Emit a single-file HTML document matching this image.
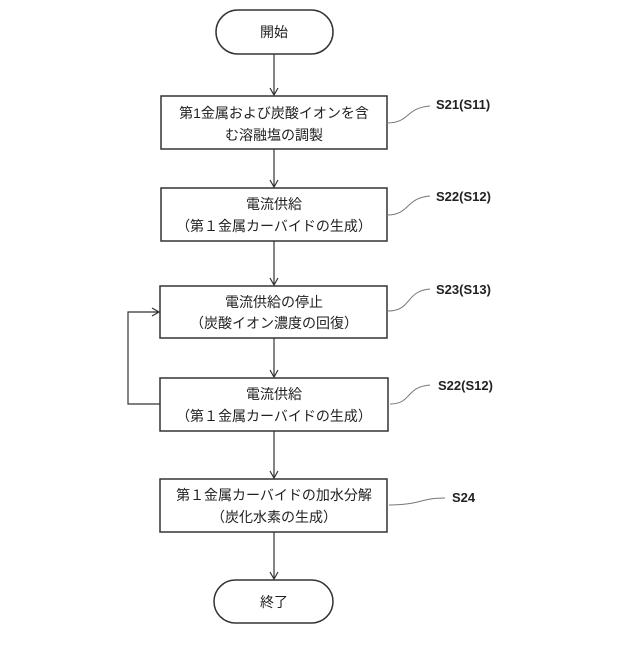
<!DOCTYPE html>
<html><head><meta charset="utf-8"><style>body{margin:0;background:#fff}</style></head><body>
<svg width="640" height="640" viewBox="0 0 640 640" xmlns="http://www.w3.org/2000/svg" font-family="Liberation Sans, Noto Sans CJK JP, sans-serif">
<defs><marker id="a" markerWidth="10" markerHeight="10" refX="8" refY="5" orient="auto" markerUnits="userSpaceOnUse"><path d="M1,1 L8,5 L1,9" fill="none" stroke="#333" stroke-width="1.2"/></marker></defs>
<g fill="none" stroke="#333" stroke-width="1.5">
<rect x="216" y="10" width="117" height="44" rx="22"/>
<rect x="161" y="96" width="226" height="53"/>
<rect x="161" y="188" width="226" height="53"/>
<rect x="160" y="286" width="227" height="52"/>
<rect x="160" y="378" width="228" height="53"/>
<rect x="160" y="479" width="227" height="53"/>
<rect x="214" y="580" width="119" height="43" rx="21.5"/>
<g stroke-width="1.2" marker-end="url(#a)">
<line x1="274" y1="54" x2="274" y2="95"/>
<line x1="274" y1="149" x2="274" y2="187"/>
<line x1="274" y1="241" x2="274" y2="285"/>
<line x1="274" y1="338" x2="274" y2="377"/>
<line x1="274" y1="431" x2="274" y2="478"/>
<line x1="274" y1="532" x2="274" y2="579"/>
<polyline points="160,404 128,404 128,312 159,312"/>
</g>
<g stroke="#777" stroke-width="1">
<path d="M387,123 C410,123 405,108 430,106"/>
<path d="M387,215 C410,215 405,198 430,196"/>
<path d="M388,311 C412,311 405,291 430,289"/>
<path d="M390,404 C412,404 405,387 430,385"/>
<path d="M389,505 C420,505 420,498 445,498"/>
</g>
</g>
<g font-size="14" fill="#222" text-anchor="middle">
<text x="274" y="37">開始</text>
<text x="274" y="118">第1金属および炭酸イオンを含</text>
<text x="274" y="140">む溶融塩の調製</text>
<text x="274" y="209">電流供給</text>
<text x="274" y="231">（第１金属カーバイドの生成）</text>
<text x="274" y="307">電流供給の停止</text>
<text x="274" y="328">（炭酸イオン濃度の回復）</text>
<text x="274" y="399">電流供給</text>
<text x="274" y="421">（第１金属カーバイドの生成）</text>
<text x="274" y="500">第１金属カーバイドの加水分解</text>
<text x="274" y="522">（炭化水素の生成）</text>
<text x="274" y="607">終了</text>
</g>
<g font-size="13" font-weight="bold" fill="#222">
<text x="436" y="109">S21(S11)</text>
<text x="436" y="201">S22(S12)</text>
<text x="436" y="294">S23(S13)</text>
<text x="438" y="390">S22(S12)</text>
<text x="452" y="502">S24</text>
</g>
</svg>
</body></html>
